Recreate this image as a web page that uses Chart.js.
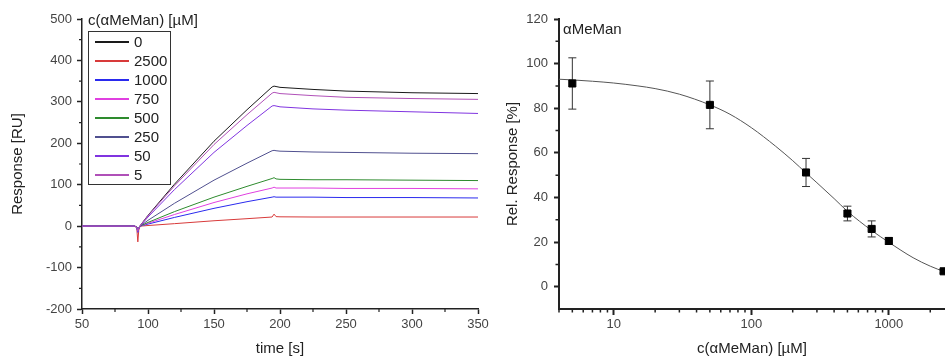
<!DOCTYPE html>
<html>
<head>
<meta charset="utf-8">
<script src="https://cdn.jsdelivr.net/npm/chart.js@4/dist/chart.umd.min.js"></script>
<style>
html,body{margin:0;padding:0;background:#fff;}
#wrap{position:relative;width:945px;height:358px;overflow:hidden;font-family:"Liberation Sans",Arial,sans-serif;color:#222;}
canvas{position:absolute;top:0;}
#c1{left:0;}
#c2{left:490px;}
.abs{position:absolute;white-space:nowrap;line-height:18px;font-size:15px;color:#222;}
#lgbox{position:absolute;left:88px;top:31px;width:81px;height:152px;border:1.5px solid #333;background:#fff;}
.lgline{position:absolute;height:1.5px;width:34px;left:95px;}
</style>
</head>
<body>
<div id="wrap">
  <canvas id="c1" width="490" height="358"></canvas>
  <canvas id="c2" width="455" height="358"></canvas>
  <div id="lgbox"></div>
  <div id="lgtitle" class="abs" style="left:88px;top:11px;">c(αMeMan) [µM]</div>
  <div id="panelLabel" class="abs" style="left:563px;top:20px;">αMeMan</div>
</div>
<script>
// ---------------- Left panel: sensorgram ----------------
const seriesLabels = ['0', '2500', '1000', '750', '500', '250', '50', '5'];
const seriesColors = ['#1a1a1a', '#d83a3a', '#2a2aee', '#e040e0', '#2e8b2e', '#50508f', '#8034e0', '#b050b8'];
const times = [50, 90, 91.5, 92.3, 93, 94, 100, 120, 150, 175, 194, 195.5, 197, 200, 225, 250, 300, 350];
const resp_0    = [0, 0, -2, -8, -4, 1, 26, 101, 205, 281, 336, 338, 337, 335, 330, 326, 322, 320];
const resp_2500 = [0, 0, -5, -38, -10, 0, 1.5, 6, 13, 18, 22, 29, 23, 22.5, 22, 22, 22, 22];
const resp_1000 = [0, 0, -3, -15, -6, 0, 5, 21, 43, 59, 70, 71, 70, 70, 70, 69, 69, 68];
const resp_750  = [0, 0, -2, -12, -5, 0, 7, 28, 57, 78, 92, 94, 92, 92, 92, 91, 91, 90];
const resp_500  = [0, 0, -2, -12, -5, 0, 9, 35, 70, 96, 115, 117, 114, 113, 112, 112, 111, 110];
const resp_250  = [0, 0, -2, -12, -5, 0, 14, 55, 111, 152, 182, 183, 182, 181, 179, 178, 176, 175];
const resp_50   = [0, 0, -3, -14, -6, 0, 22, 88, 178, 243, 290, 291, 290, 288, 283, 280, 276, 272];
const resp_5    = [0, 0, -3, -12, -5, 1, 25, 97, 197, 269, 321, 323, 322, 320, 315, 311, 308, 306];
const seriesValues = [resp_0, resp_2500, resp_1000, resp_750, resp_500, resp_250, resp_50, resp_5];
const timeTicks = [50, 100, 150, 200, 250, 300, 350];
const timeMinorTicks = [75, 125, 175, 225, 275, 325];
const respTicks = [-200, -100, 0, 100, 200, 300, 400, 500];
const respMinorTicks = [-150, -50, 50, 150, 250, 350, 450];

// ---------------- Right panel: dose response ----------------
const concentrations = [5, 50, 250, 500, 750, 1000, 2500];
const relResponse = [91.1, 81.5, 51.2, 32.8, 25.9, 20.5, 6.9];
const relError = [11.5, 10.7, 6.3, 3.3, 3.6, 1.5, 0.8];
const fitConc = [4, 5, 7, 10, 15, 20, 30, 50, 70, 100, 150, 200, 250, 300, 400, 500, 750, 1000, 1500, 2000, 2560];
const fitResp = [93.0, 92.7, 92.1, 91.3, 90.0, 88.8, 86.3, 81.5, 77.3, 71.3, 63.0, 56.5, 51.0, 46.6, 39.5, 33.8, 25.2, 19.9, 13.0, 9.2, 6.6];
const concTicks = [10, 100, 1000];
const concMinorTicks = [4, 5, 6, 7, 8, 9, 20, 30, 40, 50, 60, 70, 80, 90, 200, 300, 400, 500, 600, 700, 800, 900, 2000];
const relTicks = [0, 20, 40, 60, 80, 100, 120];
const relMinorTicks = [10, 30, 50, 70, 90, 110];

Chart.defaults.font.family = '"Liberation Sans", Arial, sans-serif';
Chart.defaults.color = '#444';

function minorTickPlugin(xVals, yVals, len, width) {
  return {
    id: 'minorTicks',
    afterDraw(chart) {
      const ctx = chart.ctx, a = chart.chartArea;
      const xs = chart.scales.x, ys = chart.scales.y;
      ctx.save();
      ctx.strokeStyle = '#222';
      ctx.lineWidth = width;
      ctx.beginPath();
      xVals.forEach(v => {
        const p = xs.getPixelForValue(v);
        ctx.moveTo(p, a.bottom);
        ctx.lineTo(p, a.bottom + len);
      });
      yVals.forEach(v => {
        const p = ys.getPixelForValue(v);
        ctx.moveTo(a.left - len, p);
        ctx.lineTo(a.left, p);
      });
      ctx.stroke();
      ctx.restore();
    }
  };
}

function zeroPad(s) { s.paddingLeft = 0; s.paddingRight = 0; s.paddingTop = 0; s.paddingBottom = 0; }

function axisBase(tickVals, fixFn, tickLen, bw, pad) {
  return {
    afterBuildTicks: s => { s.ticks = tickVals.map(v => ({ value: v })); },
    afterFit: s => { fixFn(s); zeroPad(s); },
    grid: { drawOnChartArea: false, drawTicks: true, tickLength: tickLen, tickWidth: bw, tickColor: '#222', color: '#222' },
    border: { display: true, color: '#222', width: bw },
    ticks: { color: '#444', font: { size: 13 }, padding: pad, maxRotation: 0, autoSkip: false }
  };
}

// Left chart
const leftDatasets = seriesLabels.map((lab, i) => ({
  label: lab,
  data: times.map((t, j) => ({ x: t, y: seriesValues[i][j] })),
  borderColor: seriesColors[i],
  backgroundColor: seriesColors[i],
  borderWidth: 1,
  pointRadius: 0,
  tension: 0,
  order: seriesLabels.length - i
}));

const lx = axisBase(timeTicks, s => { s.height = 49; }, 5, 1.5, 3);
Object.assign(lx, { type: 'linear', min: 50, max: 350,
  title: { display: true, text: 'time [s]', color: '#222', font: { size: 15 }, padding: { top: 0, bottom: 0 } } });
const ly = axisBase(respTicks, s => { s.width = 82; }, 5, 1.5, 5);
Object.assign(ly, { type: 'linear', min: -200, max: 500,
  title: { display: true, text: 'Response [RU]', color: '#222', font: { size: 15 }, padding: { top: 9, bottom: 0 } } });

new Chart(document.getElementById('c1'), {
  type: 'line',
  data: { datasets: leftDatasets },
  options: {
    responsive: false, animation: false, devicePixelRatio: 1,
    layout: { autoPadding: false, padding: { left: 0, right: 12, top: 19, bottom: 0 } },
    plugins: { legend: { display: false }, tooltip: { enabled: false } },
    scales: { x: lx, y: ly }
  },
  plugins: [minorTickPlugin(timeMinorTicks, respMinorTicks, 3, 1.2)]
});

// Legend (HTML, generated from series arrays)
const wrap = document.getElementById('wrap');
seriesLabels.forEach((lab, i) => {
  const cy = 42 + i * 19;
  const ln = document.createElement('div');
  ln.className = 'lgline';
  ln.style.top = (cy - 0.75) + 'px';
  ln.style.background = seriesColors[i];
  wrap.appendChild(ln);
  const tx = document.createElement('div');
  tx.className = 'abs';
  tx.style.left = '134px';
  tx.style.top = (cy - 9) + 'px';
  tx.textContent = lab;
  wrap.appendChild(tx);
});

// Right chart
const errPlugin = {
  id: 'errbars',
  beforeDatasetDraw(chart, args) {
    if (args.index !== 1) return;
    const xs = chart.scales.x, ys = chart.scales.y, ctx = chart.ctx;
    ctx.save();
    ctx.strokeStyle = '#333';
    ctx.lineWidth = 1;
    ctx.beginPath();
    concentrations.forEach((c, i) => {
      const x = xs.getPixelForValue(c);
      const y1 = ys.getPixelForValue(relResponse[i] + relError[i]);
      const y2 = ys.getPixelForValue(relResponse[i] - relError[i]);
      ctx.moveTo(x, y1); ctx.lineTo(x, y2);
      ctx.moveTo(x - 4, y1); ctx.lineTo(x + 4, y1);
      ctx.moveTo(x - 4, y2); ctx.lineTo(x + 4, y2);
    });
    ctx.stroke();
    ctx.restore();
  }
};

const rx = axisBase(concTicks, s => { s.height = 49; }, 6, 2, 2);
Object.assign(rx, { type: 'logarithmic', min: 4, max: 2560,
  title: { display: true, text: 'c(αMeMan) [µM]', color: '#222', font: { size: 15 }, padding: { top: 0, bottom: 0 } } });
rx.ticks.callback = v => String(v);
const ry = axisBase(relTicks, s => { s.width = 69; }, 5, 2, 6);
Object.assign(ry, { type: 'linear', min: -10, max: 120,
  title: { display: true, text: 'Rel. Response [%]', color: '#222', font: { size: 15 }, padding: { top: 14, bottom: 0 } } });

new Chart(document.getElementById('c2'), {
  type: 'scatter',
  data: {
    datasets: [
      {
        type: 'line',
        label: 'fit',
        data: fitConc.map((c, i) => ({ x: c, y: fitResp[i] })),
        borderColor: '#555',
        borderWidth: 1,
        pointRadius: 0,
        cubicInterpolationMode: 'monotone',
        order: 2
      },
      {
        label: 'αMeMan',
        data: concentrations.map((c, i) => ({ x: c, y: relResponse[i] })),
        pointStyle: 'rect',
        pointRadius: 5,
        borderWidth: 1,
        borderColor: '#000',
        backgroundColor: '#000',
        showLine: false,
        order: 1
      }
    ]
  },
  options: {
    responsive: false, animation: false, devicePixelRatio: 1,
    layout: { autoPadding: false, padding: { left: 0, right: 0, top: 19, bottom: 0 } },
    plugins: { legend: { display: false }, tooltip: { enabled: false } },
    scales: { x: rx, y: ry }
  },
  plugins: [minorTickPlugin(concMinorTicks, relMinorTicks, 3.5, 1.5), errPlugin]
});
</script>
</body>
</html>
